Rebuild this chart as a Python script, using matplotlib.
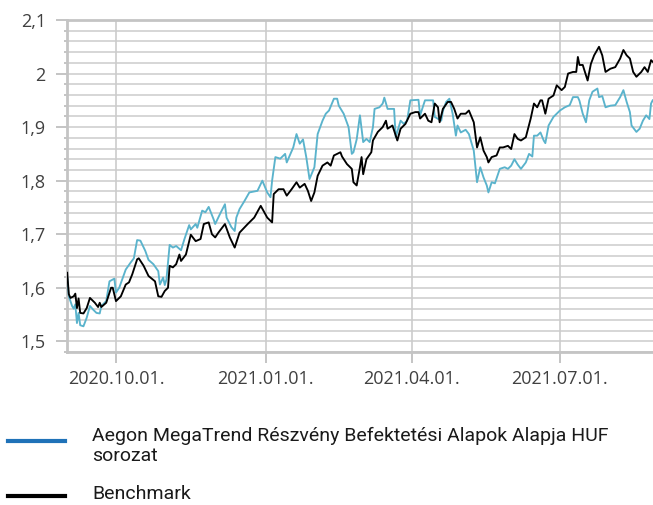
import numpy as np
import pandas as pd
import matplotlib
matplotlib.use("Agg")
import matplotlib.pyplot as plt
import matplotlib.dates as mdates
from matplotlib.lines import Line2D
from matplotlib.ticker import MultipleLocator, FuncFormatter

# day offsets from 2020-09-01
fund_day = [0, 1, 3, 4, 5, 6, 7, 8, 10, 12, 14, 16, 18, 20, 21, 24, 26, 29, 30, 32,
            36, 39, 41, 43, 45, 48, 50, 53, 56, 57, 59, 60, 61, 63, 65, 67, 70, 72, 75, 76,
            79, 80, 83, 85, 87, 90, 91, 94, 97, 98, 101, 103, 104, 106, 109, 112, 117, 120, 123, 125,
            126, 128, 131, 133, 134, 135, 139, 141, 143, 145, 147, 149, 152, 154, 157, 159, 161, 164, 166, 167,
            170, 173, 175, 176, 178, 180, 182, 184, 186, 188, 189, 192, 194, 195, 197, 198, 201, 202, 205, 207,
            209, 211, 216, 217, 220, 225, 226, 230, 231, 233, 235, 237, 239, 240, 242, 245, 247, 250, 252, 254,
            256, 258, 259, 261, 263, 266, 269, 271, 273, 275, 277, 279, 282, 284, 286, 287, 289, 291, 293, 294,
            296, 299, 301, 303, 306, 309, 311, 314, 315, 317, 319, 321, 323, 326, 327, 329, 331, 334, 337, 340,
            342, 344, 346, 347, 350, 352, 354, 356, 358, 359, 360]
fund_val = [1.620, 1.584, 1.566, 1.561, 1.569, 1.534, 1.553, 1.530, 1.528, 1.544, 1.566, 1.559, 1.553, 1.552, 1.566, 1.575, 1.612, 1.617, 1.591, 1.600,
            1.634, 1.647, 1.655, 1.689, 1.688, 1.669, 1.652, 1.644, 1.631, 1.606, 1.619, 1.605, 1.615, 1.680, 1.675, 1.678, 1.670, 1.690, 1.717, 1.709,
            1.719, 1.712, 1.744, 1.741, 1.751, 1.728, 1.719, 1.738, 1.756, 1.731, 1.713, 1.706, 1.731, 1.747, 1.762, 1.778, 1.781, 1.800, 1.778, 1.769,
            1.800, 1.844, 1.841, 1.847, 1.850, 1.834, 1.862, 1.887, 1.869, 1.877, 1.844, 1.803, 1.825, 1.887, 1.912, 1.925, 1.931, 1.953, 1.953, 1.940,
            1.925, 1.900, 1.850, 1.853, 1.877, 1.922, 1.872, 1.878, 1.872, 1.900, 1.934, 1.937, 1.944, 1.955, 1.934, 1.934, 1.934, 1.881, 1.912, 1.906,
            1.912, 1.950, 1.951, 1.922, 1.950, 1.950, 1.919, 1.912, 1.930, 1.947, 1.953, 1.925, 1.884, 1.903, 1.890, 1.895, 1.887, 1.856, 1.797, 1.825,
            1.806, 1.791, 1.778, 1.797, 1.795, 1.822, 1.825, 1.822, 1.828, 1.840, 1.830, 1.822, 1.834, 1.850, 1.845, 1.884, 1.884, 1.890, 1.875, 1.870,
            1.903, 1.919, 1.925, 1.931, 1.937, 1.941, 1.956, 1.956, 1.949, 1.925, 1.909, 1.950, 1.966, 1.972, 1.956, 1.958, 1.937, 1.940, 1.941, 1.956,
            1.969, 1.947, 1.928, 1.903, 1.891, 1.897, 1.912, 1.922, 1.915, 1.944, 1.950]

bench_day = [0, 1, 2, 4, 5, 6, 7, 8, 10, 12, 14, 17, 19, 20, 21, 24, 27, 28, 30, 33,
             36, 38, 40, 43, 44, 47, 50, 54, 56, 58, 60, 62, 63, 65, 67, 69, 70, 73, 76, 79,
             82, 84, 87, 89, 91, 93, 97, 100, 103, 106, 111, 115, 119, 123, 126, 127, 130, 133, 135, 138,
             141, 143, 146, 148, 150, 152, 154, 157, 160, 162, 164, 166, 168, 169, 172, 175, 176, 178, 180, 181,
             182, 184, 187, 188, 191, 194, 196, 197, 200, 203, 205, 208, 211, 214, 216, 217, 220, 222, 224, 226,
             228, 229, 231, 234, 236, 238, 240, 242, 245, 247, 250, 252, 254, 256, 258, 259, 261, 264, 266, 268,
             271, 273, 275, 277, 279, 282, 285, 287, 289, 291, 292, 294, 296, 299, 301, 304, 306, 308, 311, 313,
             314, 315, 317, 320, 322, 324, 327, 329, 331, 334, 337, 340, 342, 344, 346, 348, 350, 353, 355, 357,
             359, 360]
bench_val = [1.628, 1.588, 1.581, 1.584, 1.589, 1.562, 1.580, 1.553, 1.552, 1.562, 1.581, 1.572, 1.564, 1.572, 1.564, 1.572, 1.600, 1.600, 1.575, 1.584,
             1.606, 1.610, 1.625, 1.653, 1.655, 1.641, 1.622, 1.612, 1.584, 1.583, 1.594, 1.600, 1.641, 1.638, 1.644, 1.662, 1.650, 1.662, 1.699, 1.687,
             1.691, 1.719, 1.722, 1.700, 1.694, 1.703, 1.719, 1.694, 1.675, 1.703, 1.719, 1.731, 1.753, 1.731, 1.722, 1.775, 1.784, 1.784, 1.772, 1.784,
             1.797, 1.787, 1.794, 1.781, 1.762, 1.778, 1.809, 1.828, 1.834, 1.828, 1.847, 1.850, 1.853, 1.845, 1.831, 1.822, 1.797, 1.791, 1.825, 1.844,
             1.812, 1.840, 1.853, 1.875, 1.891, 1.900, 1.912, 1.897, 1.903, 1.875, 1.897, 1.906, 1.925, 1.928, 1.928, 1.916, 1.925, 1.912, 1.909, 1.944,
             1.937, 1.909, 1.934, 1.947, 1.947, 1.934, 1.916, 1.925, 1.925, 1.931, 1.909, 1.862, 1.881, 1.856, 1.844, 1.834, 1.844, 1.847, 1.862, 1.862,
             1.865, 1.859, 1.887, 1.878, 1.875, 1.881, 1.916, 1.944, 1.937, 1.950, 1.950, 1.925, 1.953, 1.959, 1.978, 1.969, 1.975, 2.000, 2.003, 2.003,
             2.031, 2.016, 2.016, 1.987, 2.018, 2.034, 2.050, 2.034, 2.003, 2.009, 2.012, 2.028, 2.044, 2.034, 2.028, 2.003, 1.994, 2.003, 2.012, 2.003,
             2.025, 2.022]

xtick_dates = ["2020-10-01", "2021-01-01", "2021-04-01", "2021-07-01"]
xtick_labels = ["2020.10.01.", "2021.01.01.", "2021.04.01.", "2021.07.01."]
fund_label = "Aegon MegaTrend Részvény Befektetési Alapok Alapja HUF\nsorozat"
bench_label = "Benchmark"

start = pd.Timestamp("2020-09-01")
fund_x = start + pd.to_timedelta(fund_day, unit="D")
bench_x = start + pd.to_timedelta(bench_day, unit="D")

c_fund = "#5ab3cc"
c_fund_legend = "#1f72b8"
c_bench = "#000000"
c_grid = "#cccccc"
c_text = "#404040"

W, H = 653, 505
fig = plt.figure(figsize=(W / 100, H / 100), dpi=100)
ax = fig.add_axes([66.7 / W, 1 - 352 / H, 1 - 66.7 / W, 332 / H])

ax.plot(fund_x, fund_val, color=c_fund, lw=1.35, zorder=3)
ax.plot(bench_x, bench_val, color=c_bench, lw=1.35, zorder=4)

ax.set_ylim(1.48, 2.1)
ax.set_xlim(start - pd.Timedelta(days=0.3), start + pd.Timedelta(days=360.2))

ax.yaxis.set_major_locator(MultipleLocator(0.1))
ax.yaxis.set_minor_locator(MultipleLocator(0.02))
ax.yaxis.set_major_formatter(FuncFormatter(lambda v, p: f"{v:.1f}".rstrip("0").rstrip(".").replace(".", ",")))
ax.set_xticks(pd.to_datetime(xtick_dates))
ax.set_xticklabels(xtick_labels)

ax.grid(True, which="both", axis="y", color=c_grid, lw=1.1, zorder=0)
ax.grid(True, which="major", axis="x", color=c_grid, lw=1.2, zorder=0)

ax.tick_params(axis="y", which="major", length=8, width=1.4, color="#c4c4c4",
               pad=7, labelsize=13, labelcolor=c_text)
ax.tick_params(axis="y", which="minor", length=2.2, width=1.4, color="#c4c4c4")
ax.tick_params(axis="x", which="major", length=8, width=1.4, color="#c4c4c4",
               pad=5, labelsize=13, labelcolor=c_text)
for lab in ax.get_xticklabels() + ax.get_yticklabels():
    lab.set_fontfamily("Open Sans")

for side in ["left", "bottom", "top"]:
    ax.spines[side].set_color("#c4c4c4")
    ax.spines[side].set_linewidth(2.0)
ax.spines["right"].set_visible(False)

# legend, drawn by hand to match the layout under the chart
fig.add_artist(Line2D([8 / W, 65 / W], [1 - 441 / H, 1 - 441 / H], color=c_fund_legend, lw=3))
fig.add_artist(Line2D([8 / W, 65 / W], [1 - 496 / H, 1 - 496 / H], color=c_bench, lw=3))
fig.text(92 / W, 1 - 446 / H, fund_label, fontsize=14, family="Roboto", color="#1a1a1a",
         va="center", ha="left", linespacing=1.15)
fig.text(92 / W, 1 - 494 / H, bench_label, fontsize=14, family="Roboto", color="#1a1a1a",
         va="center", ha="left")

fig.savefig("out.png", dpi=100)
